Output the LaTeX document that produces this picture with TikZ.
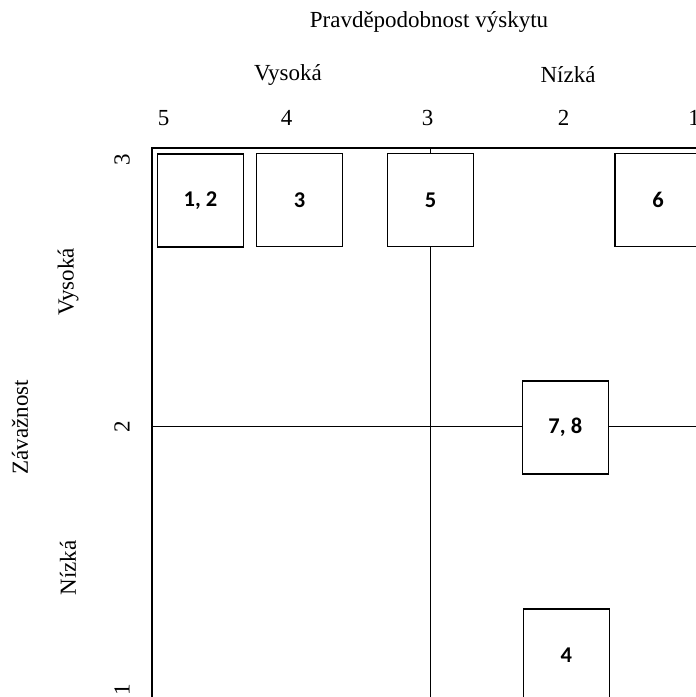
\documentclass[tikz,border=0pt]{standalone}
\usepackage{fontspec}
\setmainfont{Liberation Serif}
\newfontfamily\boxfont{Carlito}
\begin{document}
\begin{tikzpicture}[x=1pt,y=-1pt,
  axislabel/.style={font=\fontsize{23}{26}\selectfont, inner sep=0pt},
  vaxislabel/.style={axislabel, rotate=90},
  riskbox/.style={draw=black, line width=1.4pt, fill=white,
    minimum width=86pt, minimum height=93pt, inner sep=0pt,
    font=\boxfont\bfseries\fontsize{22.5}{26}\selectfont},
  gridline/.style={line width=1.4pt}]
  \useasboundingbox (0,0) rectangle (696,697);
  \clip (0,0) rectangle (696,697);

  % horizontal axis: probability of occurrence
  \node[axislabel] (title) at (429,22) {Pravděpodobnost výskytu};
  \node[axislabel] (phigh) at (288,75) {Vysoká};
  \node[axislabel] (plow) at (568,75) {Nízká};
  \node[axislabel] (p5) at (163.5,118) {5};
  \node[axislabel] (p4) at (286.7,118) {4};
  \node[axislabel] (p3) at (427.6,118) {3};
  \node[axislabel] (p2) at (563.6,118) {2};
  \node[axislabel] (p1) at (694,118) {1};

  % vertical axis: severity
  \node[vaxislabel] (sev) at (20,427) {Závažnost};
  \node[vaxislabel] (shigh) at (68,282) {Vysoká};
  \node[vaxislabel] (slow) at (68,568) {Nízká};
  \node[vaxislabel] (s3) at (122,160) {3};
  \node[vaxislabel] (s2) at (122,427) {2};
  \node[vaxislabel] (s1) at (122,690) {1};

  % matrix frame and centre lines
  \coordinate (tl) at (152,148);
  \coordinate (tr) at (700,148);
  \coordinate (bl) at (152,700);
  \coordinate (mt) at (430.5,148);
  \coordinate (mb) at (430.5,700);
  \coordinate (ml) at (152,426.5);
  \coordinate (mr) at (700,426.5);
  \draw[gridline] (bl) -- (tl) -- (tr);
  \draw[gridline] (mt) -- (mb);
  \draw[gridline] (ml) -- (mr);

  % risks
  \node[riskbox] (r12) at (200.5,200.5) {1, 2};
  \node[riskbox] (r3)  at (299.5,200) {3};
  \node[riskbox] (r5)  at (430.5,200) {5};
  \node[riskbox] (r6)  at (658,200) {6};
  \node[riskbox] (r78) at (565.3,427.5) {7, 8};
  \node[riskbox] (r4)  at (566.3,655.5) {4};
\end{tikzpicture}
\end{document}
